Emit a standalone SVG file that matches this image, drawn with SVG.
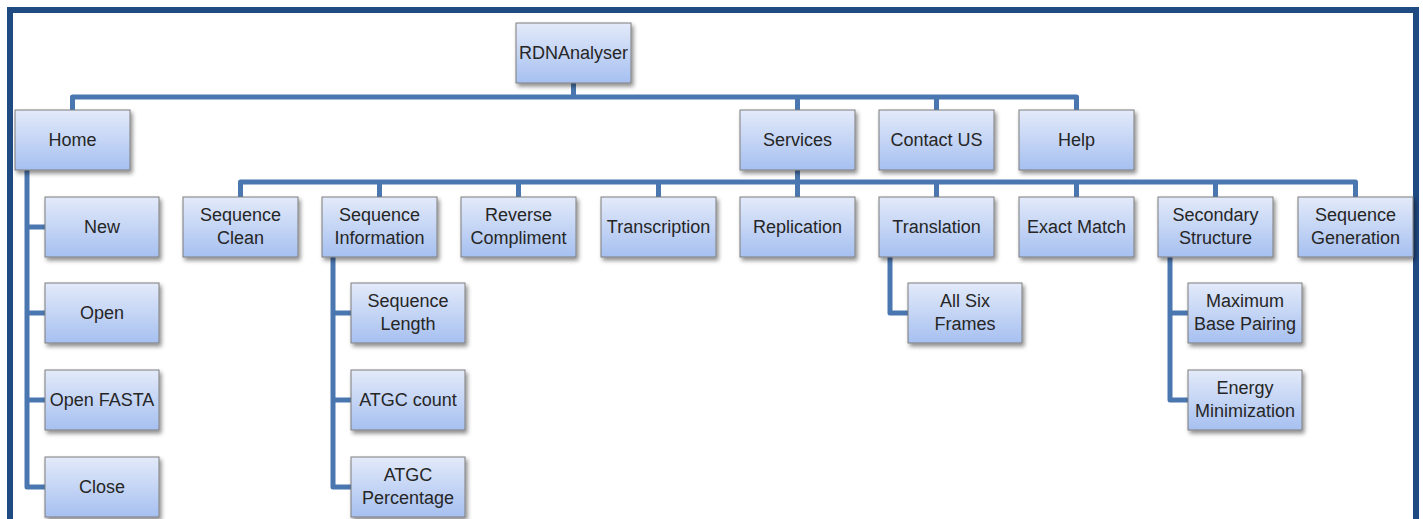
<svg xmlns="http://www.w3.org/2000/svg" width="1423" height="519" viewBox="0 0 1423 519">
<style>
.box{fill:url(#g);stroke:#7d7d7d;stroke-width:1;filter:url(#sh)}
.t{font-family:"Liberation Sans",Arial,sans-serif;font-size:18px;fill:#262626;text-anchor:middle;dominant-baseline:central}
.c{fill:none;stroke:#4a77b0;stroke-width:5;stroke-linejoin:round}
</style>
<defs>
<linearGradient id="g" x1="0" y1="0" x2="0" y2="1">
<stop offset="0" stop-color="#e3eafa"/>
<stop offset="1" stop-color="#a6c0f0"/>
</linearGradient>
<filter id="sh" x="-10%" y="-10%" width="125%" height="135%">
<feDropShadow dx="2" dy="3" stdDeviation="2" flood-color="#000" flood-opacity="0.45"/>
</filter>
</defs>
<rect width="1423" height="519" fill="#fff"/>
<path d="M10,519 V10 H1416 V519" fill="none" stroke="#1f4a82" stroke-width="6"/>
<g id="connectors">
<path class="c" d="M72.5,110 V97 H1076.5 V110 M573.5,83 V97 M797.5,97 V110 M936.5,97 V110"/>
<path class="c" d="M240.5,197 V182 H1355.5 V197 M797.5,170 V197 M379.5,182 V197 M518.5,182 V197 M658.5,182 V197 M936.5,182 V197 M1076.5,182 V197 M1215.5,182 V197"/>
<path class="c" d="M27,170 V487 H45 M27,227 H45 M27,313 H45 M27,400 H45"/>
<path class="c" d="M333,257 V487 H351 M333,313 H351 M333,400 H351"/>
<path class="c" d="M890,257 V313 H908"/>
<path class="c" d="M1170,257 V400 H1188 M1170,313 H1188"/>
</g>
<g id="n-root"><rect class="box" x="516" y="23" width="115" height="60"/><text class="t" x="573.5" y="53">RDNAnalyser</text></g>
<g id="n-home"><rect class="box" x="15" y="110" width="115" height="60"/><text class="t" x="72.5" y="140">Home</text></g>
<g id="n-services"><rect class="box" x="740" y="110" width="115" height="60"/><text class="t" x="797.5" y="140">Services</text></g>
<g id="n-contact"><rect class="box" x="879" y="110" width="115" height="60"/><text class="t" x="936.5" y="140">Contact US</text></g>
<g id="n-help"><rect class="box" x="1019" y="110" width="115" height="60"/><text class="t" x="1076.5" y="140">Help</text></g>
<g id="n-seqclean"><rect class="box" x="183" y="197" width="115" height="60"/><text class="t" x="240.5" y="215">Sequence</text><text class="t" x="240.5" y="238">Clean</text></g>
<g id="n-seqinfo"><rect class="box" x="322" y="197" width="115" height="60"/><text class="t" x="379.5" y="215">Sequence</text><text class="t" x="379.5" y="238">Information</text></g>
<g id="n-revcomp"><rect class="box" x="461" y="197" width="115" height="60"/><text class="t" x="518.5" y="215">Reverse</text><text class="t" x="518.5" y="238">Compliment</text></g>
<g id="n-transcription"><rect class="box" x="601" y="197" width="115" height="60"/><text class="t" x="658.5" y="227">Transcription</text></g>
<g id="n-replication"><rect class="box" x="740" y="197" width="115" height="60"/><text class="t" x="797.5" y="227">Replication</text></g>
<g id="n-translation"><rect class="box" x="879" y="197" width="115" height="60"/><text class="t" x="936.5" y="227">Translation</text></g>
<g id="n-exact"><rect class="box" x="1019" y="197" width="115" height="60"/><text class="t" x="1076.5" y="227">Exact Match</text></g>
<g id="n-secondary"><rect class="box" x="1158" y="197" width="115" height="60"/><text class="t" x="1215.5" y="215">Secondary</text><text class="t" x="1215.5" y="238">Structure</text></g>
<g id="n-seqgen"><rect class="box" x="1298" y="197" width="115" height="60"/><text class="t" x="1355.5" y="215">Sequence</text><text class="t" x="1355.5" y="238">Generation</text></g>
<g id="n-new"><rect class="box" x="45" y="197" width="114" height="60"/><text class="t" x="102" y="227">New</text></g>
<g id="n-open"><rect class="box" x="45" y="283" width="114" height="60"/><text class="t" x="102" y="313">Open</text></g>
<g id="n-openfasta"><rect class="box" x="45" y="370" width="114" height="60"/><text class="t" x="102" y="400">Open FASTA</text></g>
<g id="n-close"><rect class="box" x="45" y="457" width="114" height="60"/><text class="t" x="102" y="487">Close</text></g>
<g id="n-seqlen"><rect class="box" x="351" y="283" width="114" height="60"/><text class="t" x="408" y="301">Sequence</text><text class="t" x="408" y="324">Length</text></g>
<g id="n-atgccount"><rect class="box" x="351" y="370" width="114" height="60"/><text class="t" x="408" y="400">ATGC count</text></g>
<g id="n-atgcpct"><rect class="box" x="351" y="457" width="114" height="60"/><text class="t" x="408" y="475">ATGC</text><text class="t" x="408" y="498">Percentage</text></g>
<g id="n-allsix"><rect class="box" x="908" y="283" width="114" height="60"/><text class="t" x="965" y="301">All Six</text><text class="t" x="965" y="324">Frames</text></g>
<g id="n-maxbase"><rect class="box" x="1188" y="283" width="114" height="60"/><text class="t" x="1245" y="301">Maximum</text><text class="t" x="1245" y="324">Base Pairing</text></g>
<g id="n-energy"><rect class="box" x="1188" y="370" width="114" height="60"/><text class="t" x="1245" y="388">Energy</text><text class="t" x="1245" y="411">Minimization</text></g>
</svg>
